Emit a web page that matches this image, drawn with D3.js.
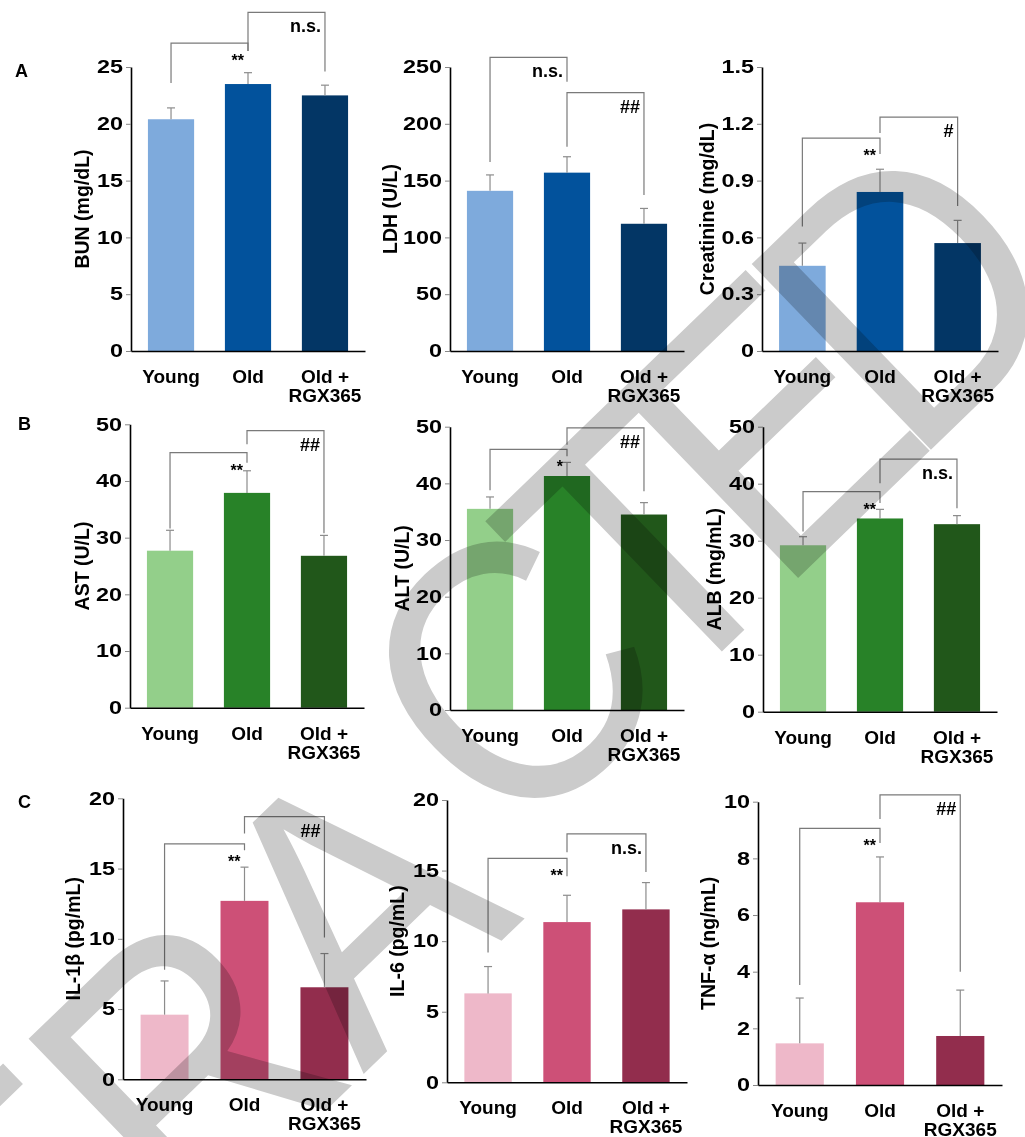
<!DOCTYPE html>
<html>
<head>
<meta charset="utf-8">
<script src="https://cdn.jsdelivr.net/npm/d3@7"></script>
<style>
  body { margin: 0; background: #fff; }
  svg { display: block; }
  text { font-family: "Liberation Sans", Arial, sans-serif; font-weight: bold; fill: #000; }
</style>
</head>
<body>
<svg id="fig" width="1025" height="1137"></svg>
<script>
// groups shown under every panel ("|" = line break)
var groups = ["Young", "Old", "Old +|RGX365"]

var blues = ["#7eaadc", "#02529c", "#033665"]
var greens = ["#93cf8a", "#288228", "#21571a"]
var pinks = ["#eeb8c9", "#cd5077", "#922d4d"]

// bracket rows: [from, to, level, left leg end, right leg end, label]
var bunVals = [20.4, 23.5, 22.5]
var bunErr = [1.0, 1.0, 0.9]
var bunTicks = [0, 5, 10, 15, 20, 25]
var bunBr = [[0, 1, 27.1, 23.6, 26.4, "**"], [1, 2, 29.8, 26.4, 24.6, "n.s."]]

var ldhVals = [141, 157, 112]
var ldhErr = [14, 14, 13.5]
var ldhTicks = [0, 50, 100, 150, 200, 250]
var ldhBr = [[0, 1, 258.5, 166.4, 237, "n.s."], [1, 2, 227.4, 179.8, 137.3, "##"]]

var creVals = [0.45, 0.84, 0.57]
var creErr = [0.12, 0.12, 0.12]
var creTicks = [0, 0.3, 0.6, 0.9, 1.2, 1.5]
var creBr = [[0, 1, 1.124, 0.657, 1.041, "**"], [1, 2, 1.235, 1.152, 0.766, "#"]]

var astVals = [27.7, 37.9, 26.8]
var astErr = [3.6, 3.9, 3.6]
var astTicks = [0, 10, 20, 30, 40, 50]
var astBr = [[0, 1, 45.0, 31.6, 43.2, "**"], [1, 2, 48.9, 46.5, 30.8, "##"]]

var altVals = [35.5, 41.3, 34.5]
var altErr = [2.1, 2.4, 2.1]
var altTicks = [0, 10, 20, 30, 40, 50]
var altBr = [[0, 1, 46.0, 38.8, 44.8, "*"], [1, 2, 49.8, 46.8, 38.6, "##"]]

var albVals = [29.2, 33.9, 32.9]
var albErr = [1.5, 1.6, 1.5]
var albTicks = [0, 10, 20, 30, 40, 50]
var albBr = [[0, 1, 38.6, 31.6, 36.6, "**"], [1, 2, 44.3, 40.1, 35.7, "n.s."]]

var il1Vals = [4.6, 12.7, 6.55]
var il1Err = [2.4, 2.4, 2.4]
var il1Ticks = [0, 5, 10, 15, 20]
var il1Br = [[0, 1, 16.75, 7.8, 16.3, "**"], [1, 2, 18.7, 17.5, 10.1, "##"]]

var il6Vals = [6.3, 11.35, 12.25]
var il6Err = [1.9, 1.9, 1.9]
var il6Ticks = [0, 5, 10, 15, 20]
var il6Br = [[0, 1, 15.87, 9.2, 14.6, "**"], [1, 2, 17.6, 16.3, 14.9, "n.s."]]

var tnfVals = [1.47, 6.45, 1.73]
var tnfErr = [1.6, 1.6, 1.62]
var tnfTicks = [0, 2, 4, 6, 8, 10]
var tnfBr = [[0, 1, 9.06, 3.53, 8.54, "**"], [1, 2, 10.24, 9.39, 4.0, "##"]]

var panels = [
  { vals: bunVals, errs: bunErr, ticks: bunTicks, br: bunBr, title: "BUN (mg/dL)", colors: blues, left: 131, top: 67, bottom: 351, width: 234, titleOff: 49 },
  { vals: ldhVals, errs: ldhErr, ticks: ldhTicks, br: ldhBr, title: "LDH (U/L)", colors: blues, left: 450, top: 67, bottom: 351, width: 234, titleOff: 60 },
  { vals: creVals, errs: creErr, ticks: creTicks, br: creBr, title: "Creatinine (mg/dL)", colors: blues, left: 762, top: 67, bottom: 351, width: 236, titleOff: 55 },
  { vals: astVals, errs: astErr, ticks: astTicks, br: astBr, title: "AST (U/L)", colors: greens, left: 130, top: 424.3, bottom: 707.7, width: 234, titleOff: 48 },
  { vals: altVals, errs: altErr, ticks: altTicks, br: altBr, title: "ALT (U/L)", colors: greens, left: 450, top: 426.7, bottom: 710, width: 234, titleOff: 48 },
  { vals: albVals, errs: albErr, ticks: albTicks, br: albBr, title: "ALB (mg/mL)", colors: greens, left: 763, top: 426.7, bottom: 711.7, width: 234, titleOff: 49 },
  { vals: il1Vals, errs: il1Err, ticks: il1Ticks, br: il1Br, title: "IL-1β (pg/mL)", colors: pinks, left: 123, top: 798.3, bottom: 1079.3, width: 243, titleOff: 50 },
  { vals: il6Vals, errs: il6Err, ticks: il6Ticks, br: il6Br, title: "IL-6 (pg/mL)", colors: pinks, left: 447, top: 800, bottom: 1082.3, width: 240, titleOff: 50 },
  { vals: tnfVals, errs: tnfErr, ticks: tnfTicks, br: tnfBr, title: "TNF-α (ng/mL)", colors: pinks, left: 758, top: 801.7, bottom: 1085, width: 244, titleOff: 50 }
]

var panelLetters = [["A", 15, 77], ["B", 18, 430], ["C", 18, 808]]

var svg = d3.select("#fig")

function drawPanel(p) {
  var g = svg.append("g")
  var ymax = p.ticks[p.ticks.length - 1]
  var y = d3.scaleLinear().domain([0, ymax]).range([p.bottom, p.top])
  var x = d3.scaleBand().domain(groups).range([p.left, p.left + p.width])
    .paddingInner(0.4).paddingOuter(0.22)
  var cx = function (i) { return x(groups[i]) + x.bandwidth() / 2 }

  // bars
  g.selectAll("rect.bar")
    .data(p.vals)
    .enter()
    .append("rect")
    .attr("class", "bar")
    .attr("x", function (d, i) { return x(groups[i]) })
    .attr("width", x.bandwidth())
    .attr("y", function (d) { return y(d) })
    .attr("height", function (d) { return p.bottom - y(d) })
    .attr("fill", function (d, i) { return p.colors[i] })

  // upper error bars
  var eb = g.selectAll("g.err")
    .data(p.vals)
    .enter()
    .append("g")
    .attr("class", "err")
    .attr("stroke", "#8c8c8c")
    .attr("stroke-width", 1.2)
  eb.append("line")
    .attr("x1", function (d, i) { return cx(i) })
    .attr("x2", function (d, i) { return cx(i) })
    .attr("y1", function (d) { return y(d) })
    .attr("y2", function (d, i) { return y(d + p.errs[i]) })
  eb.append("line")
    .attr("x1", function (d, i) { return cx(i) - 4 })
    .attr("x2", function (d, i) { return cx(i) + 4 })
    .attr("y1", function (d, i) { return y(d + p.errs[i]) })
    .attr("y2", function (d, i) { return y(d + p.errs[i]) })

  // y axis
  var ya = g.append("g")
    .attr("transform", "translate(" + p.left + ",0)")
    .call(d3.axisLeft(y).tickValues(p.ticks).tickSize(5).tickSizeOuter(0)
      .tickFormat(function (d) { return String(d) }))
  ya.select(".domain").attr("stroke", "#000").attr("stroke-width", 1.6)
  ya.selectAll(".tick line").attr("stroke", "#888")
  ya.selectAll(".tick text")
    .attr("font-size", 18)
    .attr("font-family", null)
    .attr("x", -8 / 1.3)
    .attr("transform", "scale(1.3,1)")

  // x axis with two-line labels
  var xa = g.append("g")
    .attr("transform", "translate(0," + p.bottom + ")")
    .call(d3.axisBottom(x).tickSize(0).tickSizeOuter(0))
  xa.select(".domain").attr("stroke", "#000").attr("stroke-width", 1.6)
  xa.selectAll(".tick text").each(function (d) {
    var t = d3.select(this).attr("y", null).attr("dy", null)
      .attr("font-size", 19).attr("font-family", null).text("")
    d.split("|").forEach(function (line, k) {
      t.append("tspan").attr("x", 0).attr("y", 32 + k * 19).text(line)
    })
  })

  // y title
  g.append("text")
    .attr("transform", "translate(" + (p.left - p.titleOff) + "," + ((p.top + p.bottom) / 2) + ") rotate(-90)")
    .attr("text-anchor", "middle")
    .attr("dy", "0.35em")
    .attr("font-size", 19.5)
    .text(p.title)

  // significance brackets
  p.br.forEach(function (b) {
    var xl = cx(b[0]), xr = cx(b[1])
    g.append("path")
      .attr("d", "M" + xl + "," + y(b[3]) + "V" + y(b[2]) + "H" + xr + "V" + y(b[4]))
      .attr("fill", "none")
      .attr("stroke", "#7a7a7a")
      .attr("stroke-width", 1.2)
    var star = b[5].indexOf("*") >= 0
    g.append("text")
      .attr("x", xr - 4)
      .attr("y", y(b[2]) + (star ? 23 : 20))
      .attr("text-anchor", "end")
      .attr("font-size", star ? 16 : 18)
      .text(b[5])
  })
}

panels.forEach(drawPanel)

svg.selectAll("text.plabel")
  .data(panelLetters)
  .enter()
  .append("text")
  .attr("class", "plabel")
  .attr("x", function (d) { return d[1] })
  .attr("y", function (d) { return d[2] })
  .attr("font-size", 18)
  .text(function (d) { return d[0] })

// retraction watermark laid over the figure
var watermarkText = "RETRACTED"
svg.append("text")
  .attr("transform", "translate(-310,1648) rotate(-44) scale(0.9,1)")
  .attr("dx", "-40 0 0 0 0 40 -45 -45 -45")
  .attr("dy", "55 0 0 0 0 -55 0 0 0")
  .attr("font-size", 375)
  .style("font-weight", "normal")
  .style("fill", "#cbcbcb")
  .style("mix-blend-mode", "multiply")
  .text(watermarkText)
</script>
</body>
</html>
